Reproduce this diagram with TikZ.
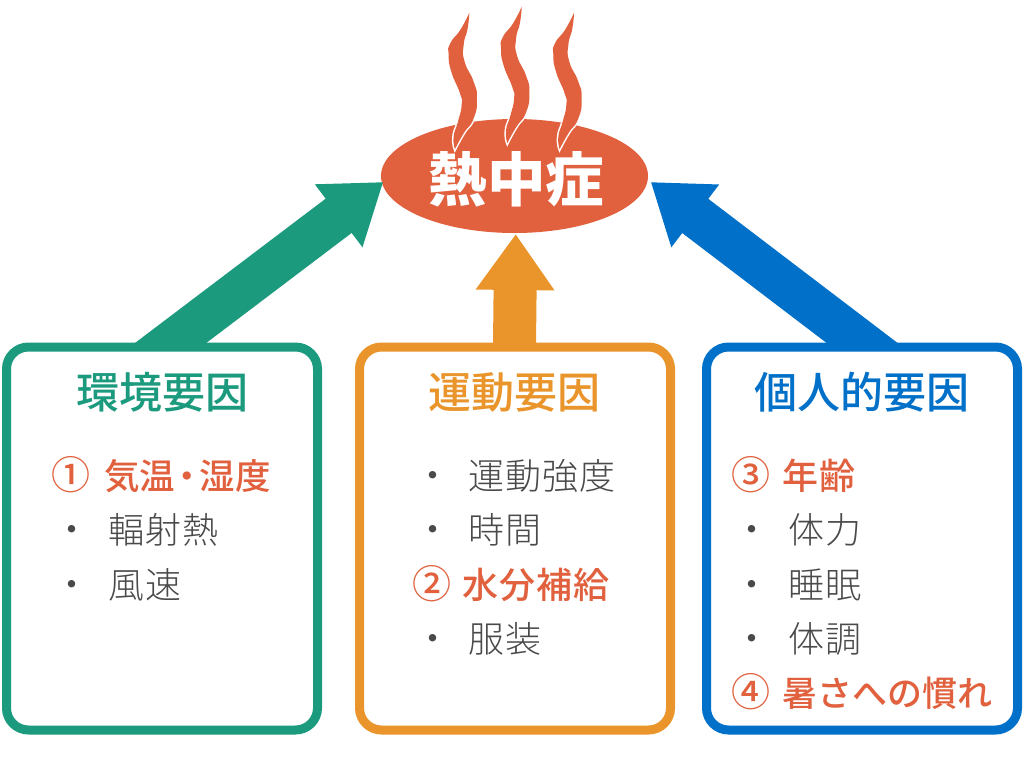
\documentclass[tikz,border=0pt]{standalone}
\usepackage{fontspec}
\usetikzlibrary{arrows.meta,shapes.geometric}
\setmainfont{Noto Sans CJK JP}
\newfontfamily\thinjp[LetterSpace=3]{Noto Sans CJK JP Light}
\newfontfamily\midjp{Noto Sans CJK JP Medium}
\newfontfamily\midjpwide[LetterSpace=3]{Noto Sans CJK JP Medium}
\definecolor{cgreen}{HTML}{1B9A7E}
\definecolor{corange}{HTML}{EA952B}
\definecolor{cblue}{HTML}{0070C8}
\definecolor{cred}{HTML}{E1603D}
\definecolor{cgray}{HTML}{4A4A4A}
\newcommand{\flamepath}{(298,38) -- plot[smooth,tension=1] coordinates {(298,38) (272,88) (241,130) (236,165) (244,215) (270,280) (275,315) (264,365) (251,410) (255,447)}
  -- plot[smooth,tension=1] coordinates {(255,447) (281,400) (311,355) (321,295) (311,245) (284,185) (281,135) (293,85) (298,38)} -- cycle}
\tikzset{
  x=1pt,y=-1pt,
  panel/.style={draw=#1,line width=9pt,fill=white,rounded corners=22pt,minimum width=311pt,minimum height=383pt,inner sep=0pt},
  bigarrow/.style={draw=#1,line width=43pt,-{Triangle[length=56pt,width=75pt,fill=#1]}},
  paneltitle/.style={text=#1,font=\fontsize{43pt}{43pt}\selectfont\midjp,inner sep=0pt},
  plain item/.style={anchor=west,inner sep=0pt,text=cgray,font=\fontsize{36pt}{36pt}\selectfont\thinjp,text height=31pt,text depth=5pt},
  key item/.style={anchor=west,inner sep=0pt,text=cred,font=\fontsize{36pt}{36pt}\selectfont\midjpwide,text height=31pt,text depth=5pt},
  key mark/.style={anchor=west,inner sep=0pt,text=cred,font=\fontsize{39pt}{39pt}\selectfont\midjp,text height=33pt,text depth=6pt},
  dot item/.style={inner sep=0pt,text=cgray,font=\fontsize{35pt}{35pt}\selectfont,text height=30pt,text depth=5pt},
  flame/.pic={
    \begin{scope}[scale=0.3333,shift={(-298,-38)}]
      \fill[cred] \flamepath;
    \end{scope}
  },
  flame edge/.pic={
    \begin{scope}[scale=0.3333,shift={(-298,-38)}]
      \draw[white,line width=3pt] \flamepath;
    \end{scope}
  }
}
\begin{document}
\begin{tikzpicture}
\useasboundingbox (0,0) rectangle (1024,771);
\fill[white] (0,0) rectangle (1024,771);
% anchors
\node[ellipse,fill=cred,minimum width=267pt,minimum height=114pt,inner sep=0pt] (heat) at (514.5,176) {};
\coordinate (greentip) at (383.3,182);
\coordinate (orangetip) at (515.7,234);
\coordinate (bluetip) at (650.7,182);
\coordinate (greentail) at (95.3,400);
\coordinate (orangetail) at (513.9,400);
\coordinate (bluetail) at (937,400);
% arrows
\draw[bigarrow=cgreen] (greentail) -- (greentip);
\draw[bigarrow=corange] (orangetail) -- (orangetip);
\draw[bigarrow=cblue] (bluetail) -- (bluetip);
% panels
\node[panel=cgreen] (envbox) at (162,538.5) {};
\node[panel=corange] (exbox) at (515,538.5) {};
\node[panel=cblue] (perbox) at (862,538.5) {};
% steam
\begin{scope}
  \clip (514.5,176) ellipse [x radius=133.5,y radius=57];
  \pic at (469.3,12.7) {flame edge};
  \pic at (521.7,6.7) {flame edge};
  \pic at (574,12.7) {flame edge};
\end{scope}
\pic at (469.3,12.7) {flame};
\pic at (521.7,6.7) {flame};
\pic at (574,12.7) {flame};
\node[inner sep=0pt,text=white,font=\fontsize{58.5pt}{58.5pt}\selectfont\bfseries] (heatlabel) at (516.5,179) {熱中症};
% titles
\node[paneltitle=cgreen] (t1) at (162,392.5) {環境要因};
\node[paneltitle=corange] (t2) at (514,392.5) {運動要因};
\node[paneltitle=cblue] (t3) at (861.5,392.5) {個人的要因};
% green items
\node[key mark] (g1n) at (51,476) {①};
\node[key item,font=\fontsize{35.5pt}{35.5pt}\selectfont\midjp] (g1) at (104,476) {気温\kern-5.5pt・\kern-5.5pt湿度};
\node[dot item] (g2d) at (72,530) {・};
\node[plain item] (g2) at (108,530) {輻射熱};
\node[dot item] (g3d) at (72,585) {・};
\node[plain item] (g3) at (108,585) {風速};
% orange items
\node[dot item] (o1d) at (433,476) {・};
\node[plain item] (o1) at (468,476) {運動強度};
\node[dot item] (o2d) at (433,530) {・};
\node[plain item] (o2) at (468,530) {時間};
\node[key mark] (o3n) at (412,585) {②};
\node[key item] (o3) at (462,585) {水分補給};
\node[dot item] (o4d) at (433,639) {・};
\node[plain item] (o4) at (468,639) {服装};
% blue items
\node[key mark] (b1n) at (731,476) {③};
\node[key item] (b1) at (782,476) {年齢};
\node[dot item] (b2d) at (752,530) {・};
\node[plain item] (b2) at (788,530) {体力};
\node[dot item] (b3d) at (752,585) {・};
\node[plain item] (b3) at (788,585) {睡眠};
\node[dot item] (b4d) at (752,639) {・};
\node[plain item] (b4) at (788,639) {体調};
\node[key mark] (b5n) at (731,693) {④};
\node[key item,font=\fontsize{35pt}{35pt}\selectfont\midjp] (b5) at (782,693) {暑さへの慣れ};
\end{tikzpicture}
\end{document}
